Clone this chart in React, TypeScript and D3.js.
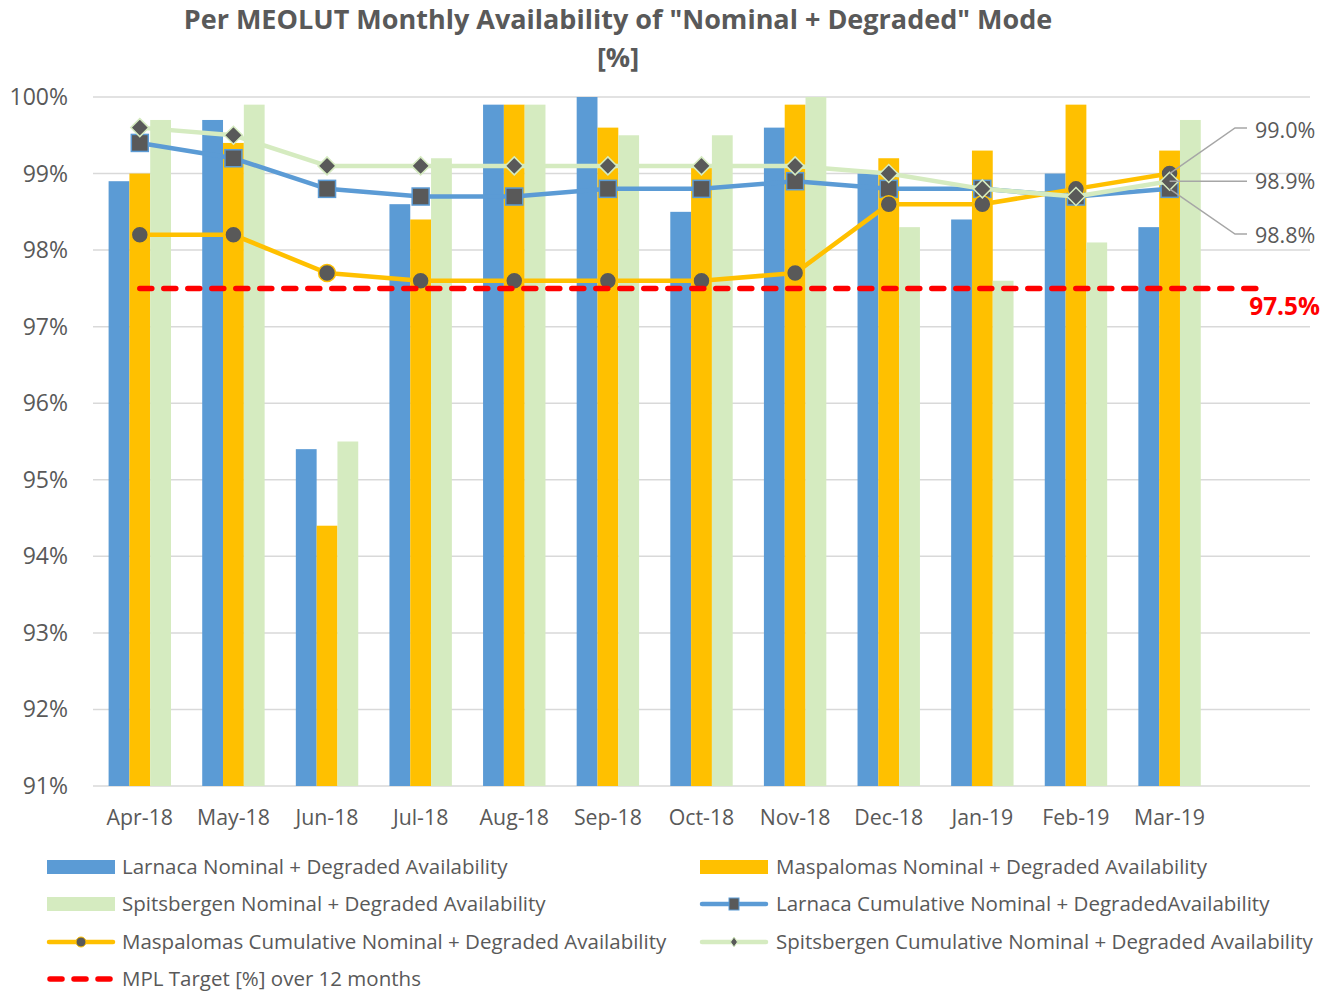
import React from 'react';
import * as d3 from 'd3';

const months = ['Apr-18', 'May-18', 'Jun-18', 'Jul-18', 'Aug-18', 'Sep-18', 'Oct-18', 'Nov-18', 'Dec-18', 'Jan-19', 'Feb-19', 'Mar-19'];
// Excel kept one empty category at the end of the axis
const slots = [...months, ''];

const larnacaBars = [98.9, 99.7, 95.4, 98.6, 99.9, 100.0, 98.5, 99.6, 99.0, 98.4, 99.0, 98.3];
const maspalomasBars = [99.0, 99.4, 94.4, 98.4, 99.9, 99.6, 99.1, 99.9, 99.2, 99.3, 99.9, 99.3];
const spitsbergenBars = [99.7, 99.9, 95.5, 99.2, 99.9, 99.5, 99.5, 100.0, 98.3, 97.6, 98.1, 99.7];

const larnacaCum = [99.4, 99.2, 98.8, 98.7, 98.7, 98.8, 98.8, 98.9, 98.8, 98.8, 98.7, 98.8];
const maspalomasCum = [98.2, 98.2, 97.7, 97.6, 97.6, 97.6, 97.6, 97.7, 98.6, 98.6, 98.8, 99.0];
const spitsbergenCum = [99.6, 99.5, 99.1, 99.1, 99.1, 99.1, 99.1, 99.1, 99.0, 98.8, 98.7, 98.9];

const target = 97.5;
const yTicks = [91, 92, 93, 94, 95, 96, 97, 98, 99, 100];

const BLUE = '#5B9BD5';
const ORANGE = '#FFC000';
const GREEN = '#D5EBC0';
const MARK = '#595959';
const TEXT = '#595959';
const FONT = "'Segoe UI', 'Open Sans', sans-serif";

const W = 1335;
const H = 991;

export default function App() {
  const x = d3.scaleBand<string>().domain(slots).range([93, 1310]).paddingInner(1 / 3).paddingOuter(1 / 6);
  const sub = d3.scaleBand<number>().domain([0, 1, 2]).range([0, x.bandwidth()]);
  const y = d3.scaleLinear().domain([91, 100]).range([786, 97]);
  const cx = (i: number) => (x(slots[i]) ?? 0) + x.bandwidth() / 2;

  const barSeries = [
    { values: larnacaBars, color: BLUE },
    { values: maspalomasBars, color: ORANGE },
    { values: spitsbergenBars, color: GREEN },
  ];

  const line = d3.line<number>().x((_, i) => cx(i)).y(d => y(d));

  const last = months.length - 1;
  const lx = cx(last);

  return (
    <svg width={W} height={H} style={{ position: 'absolute', left: 0, top: 0, background: '#fff' }} fontFamily={FONT}>
      <text x={618} y={20} dy="0.35em" textAnchor="middle" fontSize={27} fontWeight="bold" fill={TEXT}>
        Per MEOLUT Monthly Availability of "Nominal + Degraded" Mode
      </text>
      <text x={618} y={58} dy="0.35em" textAnchor="middle" fontSize={27} fontWeight="bold" fill={TEXT}>[%]</text>

      {yTicks.map(t => (
        <g key={t}>
          <line x1={93} x2={1310} y1={y(t)} y2={y(t)} stroke="#D9D9D9" strokeWidth={1.5} />
          <text x={68} y={y(t)} dy="0.35em" textAnchor="end" fontSize={23} fill={TEXT}>{t}%</text>
        </g>
      ))}

      {months.map((m, i) => (
        <text key={m} x={cx(i)} y={818} dy="0.35em" textAnchor="middle" fontSize={21.3} fill={TEXT}>{m}</text>
      ))}

      {barSeries.map((s, k) => (
        <g key={k}>
          {s.values.map((v, i) => (
            <rect key={i} x={(x(months[i]) ?? 0) + (sub(k) ?? 0)} y={y(v)} width={sub.bandwidth()}
              height={y(91) - y(v)} fill={s.color} />
          ))}
        </g>
      ))}

      <path d={line(larnacaCum) ?? ''} fill="none" stroke={BLUE} strokeWidth={4.5} strokeLinejoin="round" />
      {larnacaCum.map((v, i) => (
        <rect key={i} x={cx(i) - 8.5} y={y(v) - 8.5} width={17} height={17} fill={MARK} stroke={BLUE} strokeWidth={1.5} />
      ))}
      <path d={line(maspalomasCum) ?? ''} fill="none" stroke={ORANGE} strokeWidth={4.5} strokeLinejoin="round" />
      {maspalomasCum.map((v, i) => (
        <circle key={i} cx={cx(i)} cy={y(v)} r={8.5} fill={MARK} stroke={ORANGE} strokeWidth={1.5} />
      ))}
      <path d={line(spitsbergenCum) ?? ''} fill="none" stroke={GREEN} strokeWidth={4.5} strokeLinejoin="round" />
      {spitsbergenCum.map((v, i) => (
        <path key={i} d={`M${cx(i)},${y(v) - 9}L${cx(i) + 9},${y(v)}L${cx(i)},${y(v) + 9}L${cx(i) - 9},${y(v)}Z`}
          fill={MARK} stroke={GREEN} strokeWidth={1.5} />
      ))}

      <line x1={cx(0)} x2={cx(slots.length - 1) - 5} y1={y(target)} y2={y(target)} stroke="#FF0000"
        strokeWidth={5.5} strokeDasharray="12 12" strokeLinecap="round" />
      <text x={1320} y={306} dy="0.35em" textAnchor="end" fontSize={24.4} fontWeight="bold" fill="#FF0000">{target}%</text>

      {/* data labels for the last month */}
      <g stroke="#A6A6A6" strokeWidth={1.5} fill="none">
        <polyline points={`${lx},${y(maspalomasCum[last])} 1235,128 1247,128`} />
        <polyline points={`${lx},${y(spitsbergenCum[last])} 1247,${y(spitsbergenCum[last])}`} />
        <polyline points={`${lx},${y(larnacaCum[last])} 1235,234 1247,234`} />
      </g>
      <g fontSize={21.5} fill={TEXT}>
        <text x={1255} y={130} dy="0.35em">{maspalomasCum[last].toFixed(1)}%</text>
        <text x={1255} y={181} dy="0.35em">{spitsbergenCum[last].toFixed(1)}%</text>
        <text x={1255} y={235} dy="0.35em">{larnacaCum[last].toFixed(1)}%</text>
      </g>

      {/* legend */}
      <g fontSize={20.5} fill={TEXT}>
        <rect x={47} y={860} width={68} height={14} fill={BLUE} />
        <text x={122} y={867} dy="0.35em">Larnaca Nominal + Degraded Availability</text>
        <rect x={700} y={860} width={68} height={14} fill={ORANGE} />
        <text x={776} y={867} dy="0.35em">Maspalomas Nominal + Degraded Availability</text>

        <rect x={47} y={897} width={68} height={14} fill={GREEN} />
        <text x={122} y={904} dy="0.35em">Spitsbergen Nominal + Degraded Availability</text>
        <line x1={702} x2={766} y1={904} y2={904} stroke={BLUE} strokeWidth={4.5} strokeLinecap="round" />
        <rect x={729} y={898} width={10} height={12} fill={MARK} stroke={BLUE} strokeWidth={1} />
        <text x={776} y={904} dy="0.35em">Larnaca Cumulative Nominal + DegradedAvailability</text>

        <line x1={49} x2={113} y1={942} y2={942} stroke={ORANGE} strokeWidth={4.5} strokeLinecap="round" />
        <circle cx={81} cy={942} r={5} fill={MARK} stroke={ORANGE} strokeWidth={1} />
        <text x={122} y={942} dy="0.35em">Maspalomas Cumulative Nominal + Degraded Availability</text>
        <line x1={702} x2={766} y1={942} y2={942} stroke={GREEN} strokeWidth={4.5} strokeLinecap="round" />
        <path d="M734,937L737.5,942L734,947L730.5,942Z" fill={MARK} stroke={GREEN} strokeWidth={1} />
        <text x={776} y={942} dy="0.35em">Spitsbergen Cumulative Nominal + Degraded Availability</text>

        <line x1={50} x2={112} y1={979} y2={979} stroke="#FF0000" strokeWidth={5.5} strokeDasharray="12 12" strokeLinecap="round" />
        <text x={122} y={979} dy="0.35em">MPL Target [%] over 12 months</text>
      </g>
    </svg>
  );
}
